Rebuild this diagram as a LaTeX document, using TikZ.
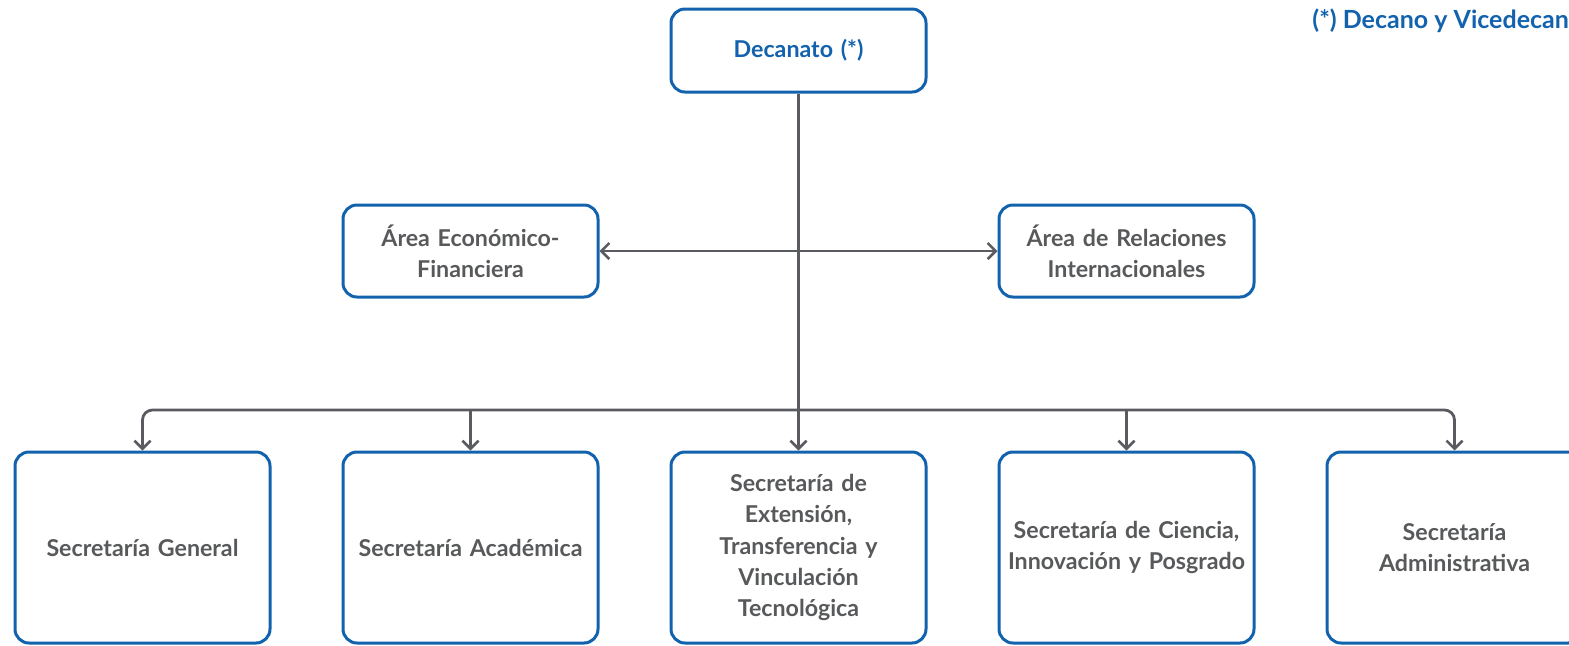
\documentclass[tikz,border=0pt]{standalone}
\usepackage{fontspec}
\setmainfont{Lato}
\usetikzlibrary{arrows.meta}
\definecolor{boxblue}{HTML}{1262AE}
\definecolor{txtgray}{HTML}{58595B}
\definecolor{linegray}{HTML}{5A5B60}
\begin{document}
\begin{tikzpicture}[x=0.5pt, y=-0.5pt,
  unit/.style={draw=boxblue, line width=1.5pt, rounded corners=7pt, fill=white,
    minimum width=127.5pt, text width=120pt, align=center, text=txtgray,
    font=\bfseries\fontsize{11.6}{15.7}\selectfont},
  topunit/.style={unit, minimum height=41.5pt, text=boxblue},
  areaunit/.style={unit, minimum height=46pt},
  secunit/.style={unit, minimum height=95.5pt},
  conn/.style={draw=linegray, line width=1.4pt,
    arrows={-Straight Barb[length=4pt, width=8pt, line width=1.3pt]}}]
\useasboundingbox (0, 0) rectangle (1569, 645);

% top and staff units
\node [topunit] (dec) at (798.5, 50.5) {Decanato (*)};
\node [areaunit] (aef) at (470.5, 251) {Área Económico-\\Financiera};
\node [areaunit] (ari) at (1126.5, 251) {Área de Relaciones\\Internacionales};

% secretarías
\node [secunit] (sg) at (142.5, 547.5) {Secretaría General};
\node [secunit] (sa) at (470.5, 547.5) {Secretaría Académica};
\node [secunit] (se) at (798.5, 547.5) {Secretaría de\\Extensión,\\Transferencia y\\Vinculación\\Tecnológica};
\node [secunit] (sc) at (1126.5, 547.5) {Secretaría de Ciencia,\\Innovación y Posgrado};
\node [secunit] (sad) at (1454.5, 547.5) {Secretaría\\Administrativa};

\node [anchor=base west, inner sep=0pt, text=boxblue, font=\bfseries\fontsize{12.5}{14}\selectfont] (note) at (1312, 28) {(*) Decano y Vicedecano};

\coordinate (bus) at (798.5, 410);

\draw [conn] (dec.south) -- (se.north);
\draw [conn, arrows={Straight Barb[length=4pt, width=8pt, line width=1.3pt]-Straight Barb[length=4pt, width=8pt, line width=1.3pt]}] (aef.east) -- (ari.west);
\draw [conn, rounded corners=5pt, arrows={Straight Barb[length=4pt, width=8pt, line width=1.3pt]-Straight Barb[length=4pt, width=8pt, line width=1.3pt]}] (sg.north) |- (bus) -| (sad.north);
\draw [conn] (sa.north |- bus) -- (sa.north);
\draw [conn] (sc.north |- bus) -- (sc.north);
\end{tikzpicture}
\end{document}
